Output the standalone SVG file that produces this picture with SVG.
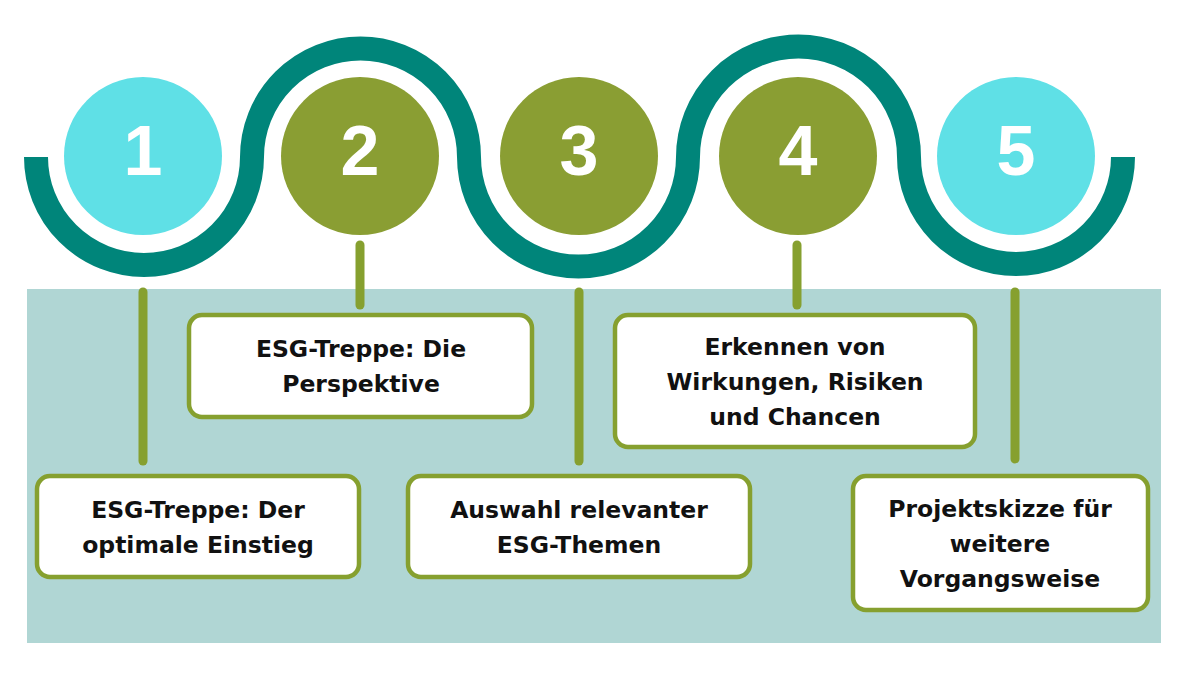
<svg xmlns="http://www.w3.org/2000/svg" width="1196" height="681" viewBox="0 0 1196 681">
<style>
.bg{fill:#B0D6D4}
.wave{fill:none;stroke:#00857A;stroke-width:24}
.c-cyan{fill:#5FE0E6}
.c-olive{fill:#8A9E33}
.num{fill:#fff;font-family:"Liberation Sans",Arial,sans-serif;font-weight:bold;font-size:70px;text-anchor:middle}
.conn{stroke:#86A02F;stroke-width:9;stroke-linecap:round}
.box{fill:#fff;stroke:#86A02F;stroke-width:4.5}
.lbl{fill:#111;font-family:"DejaVu Sans","Liberation Sans",sans-serif;font-weight:bold;font-size:23.5px;text-anchor:middle}
</style>
<rect class="bg" x="27" y="289" width="1134" height="354"/>
<path class="wave" d="M36 157 A108 108 0 0 0 252 157 A108.5 108.5 0 0 1 469 157 A109.5 109.5 0 0 0 688 157 A110.5 110.5 0 0 1 909 157 A107 107 0 0 0 1123 157"/>
<g id="connectors">
<line class="conn" x1="143" y1="292" x2="143" y2="461"/>
<line class="conn" x1="360" y1="245" x2="360" y2="305"/>
<line class="conn" x1="579" y1="292" x2="579" y2="461"/>
<line class="conn" x1="797" y1="245" x2="797" y2="305"/>
<line class="conn" x1="1015" y1="292" x2="1015" y2="459"/>
</g>
<g id="step1">
<circle class="c-cyan" cx="143" cy="156" r="79"/>
<text class="num" x="143" y="175">1</text>
</g>
<g id="step2">
<circle class="c-olive" cx="360" cy="156" r="79"/>
<text class="num" x="360" y="175">2</text>
</g>
<g id="step3">
<circle class="c-olive" cx="579" cy="156" r="79"/>
<text class="num" x="579" y="175">3</text>
</g>
<g id="step4">
<circle class="c-olive" cx="798" cy="156" r="79"/>
<text class="num" x="798" y="175">4</text>
</g>
<g id="step5">
<circle class="c-cyan" cx="1016" cy="156" r="79"/>
<text class="num" x="1016" y="175">5</text>
</g>
<g id="box1">
<rect class="box" x="37" y="476" width="322" height="101" rx="13"/>
<text class="lbl" x="198" y="517.5">ESG-Treppe: Der</text>
<text class="lbl" x="198" y="552.5">optimale Einstieg</text>
</g>
<g id="box2">
<rect class="box" x="189" y="315" width="343" height="102" rx="13"/>
<text class="lbl" x="361" y="357">ESG-Treppe: Die</text>
<text class="lbl" x="361" y="392">Perspektive</text>
</g>
<g id="box3">
<rect class="box" x="408" y="476" width="342" height="101" rx="13"/>
<text class="lbl" x="579" y="517.5">Auswahl relevanter</text>
<text class="lbl" x="579" y="552.5">ESG-Themen</text>
</g>
<g id="box4">
<rect class="box" x="615" y="315" width="360" height="132" rx="13"/>
<text class="lbl" x="795" y="354.5">Erkennen von</text>
<text class="lbl" x="795" y="389.5">Wirkungen, Risiken</text>
<text class="lbl" x="795" y="424.5">und Chancen</text>
</g>
<g id="box5">
<rect class="box" x="853" y="476" width="295" height="134" rx="13"/>
<text class="lbl" x="1000" y="516.5">Projektskizze für</text>
<text class="lbl" x="1000" y="551.5">weitere</text>
<text class="lbl" x="1000" y="586.5">Vorgangsweise</text>
</g>
</svg>
